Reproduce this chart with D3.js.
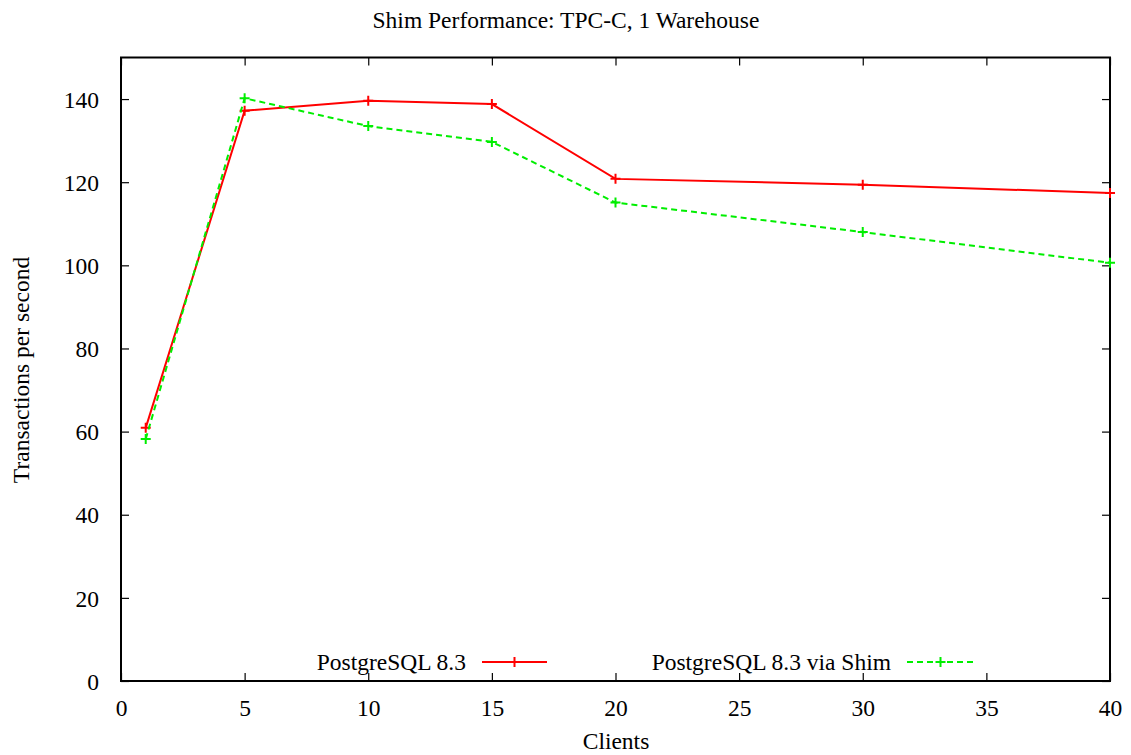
<!DOCTYPE html>
<html><head><meta charset="utf-8">
<script src="https://cdn.jsdelivr.net/npm/d3@7"></script>
<style>body{margin:0;background:#fff}svg{display:block}</style>
</head><body>
<svg id="c" width="1131" height="755"></svg>
<script>
const clients = [1, 5, 10, 15, 20, 30, 40];
const pgValues = [60.9, 137.2, 139.6, 138.8, 120.8, 119.4, 117.4];
const shimValues = [58.2, 140.2, 133.5, 129.7, 115.1, 108.0, 100.6];
const xTicks = [0, 5, 10, 15, 20, 25, 30, 35, 40];
const yTicks = [0, 20, 40, 60, 80, 100, 120, 140];
const seriesNames = ["PostgreSQL 8.3", "PostgreSQL 8.3 via Shim"];

const FONT = "Liberation Serif, Tinos, Times New Roman, Times, DejaVu Serif, Noto Serif, serif";
const FS = "23.5px";
const svg = d3.select("#c").attr("font-family", FONT);
const L = 121, R = 1110, T = 57.5, B = 681;
const x = d3.scaleLinear().domain([0, 40]).range([L, R]);
const y = d3.scaleLinear().domain([0, 150]).range([B, T]);
const tl = 8;

const gx = svg.append("g").attr("transform", `translate(0,${B})`)
  .call(d3.axisBottom(x).tickValues(xTicks).tickSize(-tl).tickPadding(18).tickFormat(d3.format("d")));
const gxt = svg.append("g").attr("transform", `translate(0,${T})`)
  .call(d3.axisTop(x).tickValues(xTicks).tickSize(-tl).tickFormat(""));
const gy = svg.append("g").attr("transform", `translate(${L},0)`)
  .call(d3.axisLeft(y).tickValues(yTicks).tickSize(-tl).tickPadding(22).tickFormat(d3.format("d")));
const gyr = svg.append("g").attr("transform", `translate(${R},0)`)
  .call(d3.axisRight(y).tickValues(yTicks).tickSize(-tl).tickFormat(""));
[gx, gxt, gy, gyr].forEach(g => {
  g.attr("font-family", FONT).attr("font-size", FS);
  g.select(".domain").remove();
  g.selectAll("line").attr("stroke", "#000").attr("stroke-width", 1.2);
  g.selectAll("text").attr("fill", "#000");
});
gy.selectAll("text").attr("dy", "0.35em");
gx.selectAll("text").attr("dy", "0.71em");
svg.append("rect").attr("x", L).attr("y", T).attr("width", R - L).attr("height", B - T)
  .attr("fill", "none").attr("stroke", "#000").attr("stroke-width", 2);

const line = d3.line().x((d, i) => x(clients[i])).y(d => y(d));
const series = [
  {name: seriesNames[0], vals: pgValues, color: "#ff0000", dash: null},
  {name: seriesNames[1], vals: shimValues, color: "#00ee00", dash: "6,4"}
];
const plus = 5;
function drawPlus(g, cx, cy, color) {
  g.append("path").attr("d", `M${cx - plus},${cy}H${cx + plus}M${cx},${cy - plus}V${cy + plus}`)
    .attr("stroke", color).attr("stroke-width", 2).attr("fill", "none");
}
series.forEach(s => {
  svg.append("path").datum(s.vals).attr("d", line).attr("fill", "none")
    .attr("stroke", s.color).attr("stroke-width", 2).attr("stroke-dasharray", s.dash);
  const g = svg.append("g");
  s.vals.forEach((v, i) => drawPlus(g, x(clients[i]), y(v), s.color));
});

const legend = [
  {textEnd: 466, x1: 482, x2: 547},
  {textEnd: 891, x1: 907, x2: 974}
];
const ly = 662;
series.forEach((s, i) => {
  const lg = legend[i];
  svg.append("text").attr("x", lg.textEnd).attr("y", 670)
    .attr("text-anchor", "end").attr("font-size", FS).text(s.name);
  svg.append("line").attr("x1", lg.x1).attr("x2", lg.x2).attr("y1", ly).attr("y2", ly)
    .attr("stroke", s.color).attr("stroke-width", 2).attr("stroke-dasharray", s.dash);
  drawPlus(svg, (lg.x1 + lg.x2) / 2, ly, s.color);
});

svg.append("text").attr("x", 566).attr("y", 28).attr("text-anchor", "middle")
  .attr("font-size", FS).text("Shim Performance: TPC-C, 1 Warehouse");
svg.append("text").attr("x", 616).attr("y", 749).attr("text-anchor", "middle")
  .attr("font-size", FS).text("Clients");
svg.append("text").attr("transform", "translate(29,370) rotate(-90)").attr("text-anchor", "middle")
  .attr("font-size", FS).text("Transactions per second");
</script>
</body></html>
